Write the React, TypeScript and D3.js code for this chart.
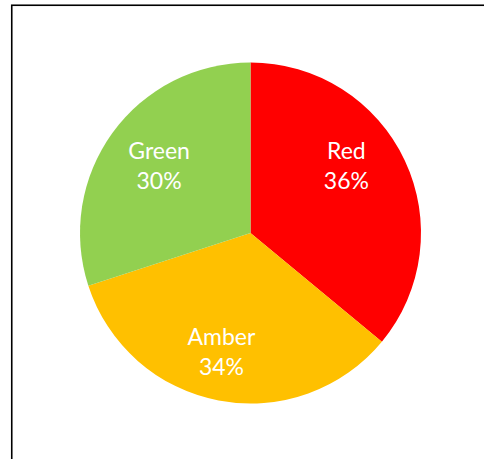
import React from "react";
import * as d3 from "d3";

const categories = ["Red", "Amber", "Green"];
const values = [36, 34, 30];
const colors = ["#FF0000", "#FFC000", "#92D050"];

const W = 484;
const H = 459;
const cx = 250.5;
const cy = 233;
const R = 170.5;
// label placement tweaks (angle offset in radians, radius)
const labelAngleShift = [-0.17, 0.05, 0];
const labelRadius = [117, 123, 113];

export default function App() {
  const pie = d3.pie<number>().sort(null).value((d) => d);
  const arcs = pie(values);
  const arc = d3.arc<d3.PieArcDatum<number>>().innerRadius(0).outerRadius(R);
  const total = d3.sum(values);
  return (
    <svg
      width={W}
      height={H}
      style={{ position: "absolute", left: 0, top: 0, background: "#fff" }}
    >
      <rect x={11.75} y={5.25} width={600} height={600} fill="#fff" stroke="#000" strokeWidth={1.6} />
      <g transform={`translate(${cx},${cy})`}>
        {arcs.map((a, i) => (
          <path key={i} d={arc(a) || ""} fill={colors[i]} />
        ))}
        {arcs.map((a, i) => {
          const mid = (a.startAngle + a.endAngle) / 2 + labelAngleShift[i];
          const x = Math.sin(mid) * labelRadius[i];
          const y = -Math.cos(mid) * labelRadius[i];
          const pct = Math.round((values[i] / total) * 100) + "%";
          return (
            <text
              key={"t" + i}
              x={x}
              y={y}
              fill="#fff"
              fontFamily="Lato, sans-serif"
              fontSize={23}
              textAnchor="middle"
            >
              <tspan x={x} dy={-7.5}>{categories[i]}</tspan>
              <tspan x={x} dy={30}>{pct}</tspan>
            </text>
          );
        })}
      </g>
    </svg>
  );
}
